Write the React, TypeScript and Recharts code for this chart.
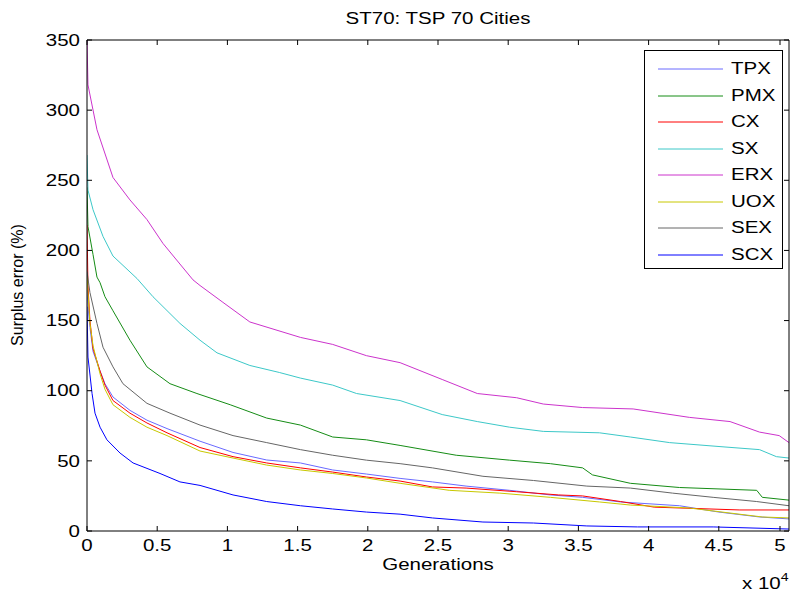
import * as React from "react";
import { LineChart, Line, XAxis, YAxis, Legend } from "recharts";

// [generation, surplus error %]
const TPX = [[0,172],[70,160],[210,145],[430,128],[930,114],[1280,105],[1850,95.5],[3060,86],[4270,79],[5700,73],[8050,64],[10400,56],[12800,50.6],[15200,48.5],[17500,43.5],[19900,40.6],[22300,37.5],[24600,35],[27000,32],[30100,29],[33000,25.7],[35300,24],[38000,20.7],[42200,18],[45000,13.5],[47900,10],[50000,8.6]];
const PMX = [[0,245],[70,217],[430,197],[710,181],[930,177],[1280,167],[1850,157],[3060,136],[4270,117],[5910,105],[7830,98],[10200,90],[12800,80.5],[15200,75.5],[17500,67],[19900,65],[22300,61],[26300,54],[30100,50.5],[33000,48],[35300,45],[36000,40],[38700,34],[42200,31],[47700,29],[48100,24],[50000,22]];
const CX = [[0,218],[70,175],[210,150],[430,130],[930,114],[1280,104],[1850,93],[3060,84],[4270,77],[5700,70],[8050,59.5],[10400,53],[12800,48.5],[15200,45],[17500,42],[19900,38.5],[22300,35.6],[24600,31.4],[27000,30.6],[30600,28],[33600,25.7],[35300,25],[38000,21],[40400,17],[46500,15],[50000,15]];
const SX = [[0,268],[70,243],[430,229],[1140,210],[1850,196],[3560,180],[4700,167],[6620,148],[8050,136],[9260,127],[11600,118],[13700,113],[15200,109],[17500,104],[19200,98],[22300,93],[25300,83],[27800,78],[30100,74],[32500,71],[36500,70],[38700,67],[41500,63],[45300,60],[47900,58],[49100,53],[50000,52]];
const ERX = [[0,350],[70,318],[712,286],[1850,252],[3060,236],[4270,222],[5410,205],[7550,179],[8050,175],[9680,163],[11600,149],[15200,138],[17500,133],[19900,125],[22300,120],[25300,108],[27800,98],[30600,95],[32500,90.5],[35300,88],[38900,87],[42900,81],[45800,78],[47900,70.5],[49300,68],[50000,63]];
const UOX = [[0,183],[70,170],[210,148],[430,132],[930,112],[1280,101],[1850,90],[3060,81],[4270,74],[5700,68],[8050,57],[10400,52],[12800,47],[15200,43.5],[17500,41],[19900,37.8],[22300,34],[25800,29],[29400,27],[33000,24],[36500,20.7],[38700,18.5],[42900,16.4],[45800,12.8],[48100,10],[50000,9.3]];
const SEX = [[0,185],[210,170],[710,148],[1140,131],[1850,117],[2560,105],[4270,91],[5910,84],[8050,75.5],[10400,68],[12800,63],[15200,58],[17500,54],[19900,50.5],[22300,48],[24600,45],[28200,39],[31800,36],[35600,32],[38700,30.6],[41700,27],[44600,24],[47700,21],[50000,18]];
const SCX = [[0,160],[70,124],[360,98],[570,84],[930,74],[1420,65],[2350,55.6],[3280,48.5],[5200,41],[6620,35],[8050,32.5],[10400,25.7],[12800,21],[15200,18],[17500,15.7],[19900,13.5],[22300,12],[24600,9.3],[28200,6.4],[31800,5.7],[35600,3.6],[39200,2.9],[44600,2.9],[50000,1.4]];

const X_TICKS = [0, 5000, 10000, 15000, 20000, 25000, 30000, 35000, 40000, 45000, 50000];
const Y_TICKS = [0, 50, 100, 150, 200, 250, 300, 350];

const SERIES = [
  { name: "TPX", points: TPX, color: "#6a6aff" },
  { name: "PMX", points: PMX, color: "#158c15" },
  { name: "CX", points: CX, color: "#ff0000" },
  { name: "SX", points: SX, color: "#3cc8c8" },
  { name: "ERX", points: ERX, color: "#cc33cc" },
  { name: "UOX", points: UOX, color: "#c8c800" },
  { name: "SEX", points: SEX, color: "#666666" },
  { name: "SCX", points: SCX, color: "#0000ff" },
];

const FONT = "'Liberation Sans', Arial, sans-serif";
const STRETCH = 1.28; // the source figure's text is stretched sideways
const TICK_LEN = 5;
const X_GAP = 9;
const Y_GAP = 7;
const toRows = (pts: number[][]) => pts.map(([g, v]) => ({ g, v }));

// MATLAB-style ticks point into the plot box
const XTick = (p: any) => {
  const axisY = p.y - X_GAP;
  return (
    <g>
      <line x1={p.x} x2={p.x} y1={axisY} y2={axisY - TICK_LEN} stroke="#000" />
      <text
        x={p.x}
        y={p.y}
        dy="0.71em"
        textAnchor="middle"
        fontSize={16}
        fontFamily={FONT}
        fill="#000"
        transform={`translate(${p.x},0) scale(${STRETCH},1) translate(${-p.x},0)`}
      >
        {String(p.payload.value / 10000)}
      </text>
    </g>
  );
};

const YTick = (p: any) => {
  const axisX = p.x + Y_GAP;
  return (
    <g>
      <line x1={axisX} x2={axisX + TICK_LEN} y1={p.y} y2={p.y} stroke="#000" />
      <text
        x={p.x}
        y={p.y}
        dy="0.355em"
        textAnchor="end"
        fontSize={16}
        fontFamily={FONT}
        fill="#000"
        transform={`translate(${p.x},0) scale(${STRETCH},1) translate(${-p.x},0)`}
      >
        {p.payload.value}
      </text>
    </g>
  );
};

const TopTick = (p: any) => <line x1={p.x} x2={p.x} y1={p.y} y2={p.y + TICK_LEN} stroke="#000" />;
const RightTick = (p: any) => <line x1={p.x} x2={p.x - TICK_LEN} y1={p.y} y2={p.y} stroke="#000" />;

const LegendBox = () => (
  <div
    style={{
      width: 137,
      height: 212,
      border: "1px solid #000",
      background: "#fff",
      fontFamily: FONT,
      fontSize: 16,
      paddingTop: 5,
      boxSizing: "content-box",
    }}
  >
    {SERIES.map((s) => (
      <div key={s.name} style={{ display: "flex", alignItems: "center", height: 26.5 }}>
        <svg width={86} height={10}>
          <line x1={13} x2={78} y1={5} y2={5} stroke={s.color} strokeWidth={1} />
        </svg>
        <span style={{ display: "inline-block", transform: `scaleX(${STRETCH})`, transformOrigin: "left center" }}>
          {s.name}
        </span>
      </div>
    ))}
  </div>
);

const textBase: React.CSSProperties = {
  position: "absolute",
  fontFamily: FONT,
  fontSize: 16,
  whiteSpace: "nowrap",
};

export default function App() {
  return (
    <div style={{ position: "absolute", left: 0, top: 0, width: 800, height: 592, background: "#fff" }}>
      <div style={{ ...textBase, left: 338, top: 10, width: 200, textAlign: "center", transform: `scaleX(${STRETCH})` }}>
        ST70: TSP 70 Cities
      </div>
      <LineChart width={800} height={592} margin={{ top: 39, right: 10, left: 0, bottom: 0 }}>
        <XAxis
          dataKey="g"
          type="number"
          domain={[0, 50000]}
          ticks={X_TICKS}
          height={61}
          tickSize={0}
          tickLine={false}
          tickMargin={X_GAP}
          tick={XTick}
          stroke="#000"
          allowDataOverflow
        />
        <XAxis
          xAxisId="top"
          dataKey="g"
          orientation="top"
          type="number"
          domain={[0, 50000]}
          ticks={X_TICKS}
          height={1}
          tickSize={0}
          tickLine={false}
          tickMargin={0}
          tick={TopTick}
          stroke="#000"
          allowDataOverflow
        />
        <YAxis
          type="number"
          domain={[0, 350]}
          ticks={Y_TICKS}
          width={87}
          tickSize={0}
          tickLine={false}
          tickMargin={Y_GAP}
          tick={YTick}
          stroke="#000"
          allowDataOverflow
        />
        <YAxis
          yAxisId="right"
          orientation="right"
          type="number"
          domain={[0, 350]}
          ticks={Y_TICKS}
          width={1}
          tickSize={0}
          tickLine={false}
          tickMargin={0}
          tick={RightTick}
          stroke="#000"
          allowDataOverflow
        />
        {SERIES.map((s) => (
          <Line
            key={s.name}
            name={s.name}
            data={toRows(s.points)}
            dataKey="v"
            type="linear"
            stroke={s.color}
            strokeWidth={1}
            dot={false}
            isAnimationActive={false}
          />
        ))}
        {/* invisible series so the top/right box axes get drawn */}
        <Line
          xAxisId="top"
          yAxisId="right"
          data={toRows(SCX)}
          dataKey="v"
          stroke="none"
          legendType="none"
          dot={false}
          activeDot={false}
          isAnimationActive={false}
        />
        <Legend
          layout="vertical"
          align="center"
          verticalAlign="middle"
          content={<LegendBox />}
          wrapperStyle={{ left: 644, top: 50, width: 139, height: 219 }}
        />
      </LineChart>
      <div style={{ ...textBase, left: 338, top: 556, width: 200, textAlign: "center", transform: `scaleX(${STRETCH})` }}>
        Generations
      </div>
      <div
        style={{
          ...textBase,
          left: 18,
          top: 285,
          transform: "translate(-50%, -50%) rotate(-90deg)",
        }}
      >
        Surplus error (%)
      </div>
      <div style={{ ...textBase, left: 742, top: 573, transform: `scaleX(${STRETCH})`, transformOrigin: "left center" }}>
        x 10<sup style={{ fontSize: 11, position: "relative", top: -2 }}>4</sup>
      </div>
    </div>
  );
}
